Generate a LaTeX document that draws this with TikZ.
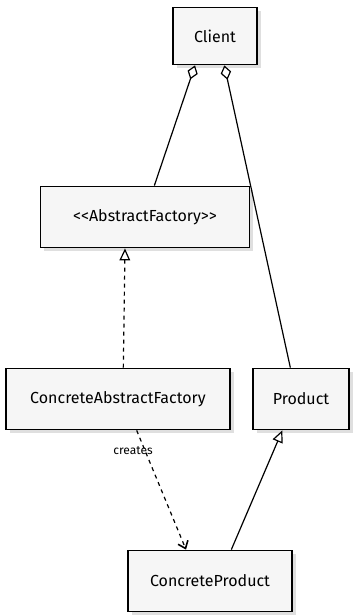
\documentclass[tikz,border=0pt]{standalone}
\usepackage{fontspec}
\setmainfont{Fira Sans}
\usetikzlibrary{arrows.meta, positioning, shadows}

\begin{document}
\begin{tikzpicture}[
    x=0.75pt, y=-0.75pt,
    box/.style={rectangle, draw, line width=1.1pt, fill=gray!7, drop shadow={opacity=0.25},
      minimum height=46pt, font=\fontsize{12}{14}\selectfont},
    link/.style={line width=0.9pt},
    inherit/.style={link, -{Triangle[open, length=9pt, width=8pt]}},
    aggr/.style={link, {Diamond[open, length=11pt, width=8pt]}-},
    creates/.style={link, dashed, -{Straight Barb[length=5pt, width=8pt, line width=1.2pt]}}
  ]
    \useasboundingbox (0,0) rectangle (355,616);
    \node[box, minimum width=63pt, minimum height=43pt] (client) at (215,36) {Client};
    \node[box, minimum width=157pt] (af) at (145,217) {{<}{<}AbstractFactory{>}{>}};
    \node[box, minimum width=168pt] (caf) at (118,399) {ConcreteAbstractFactory};
    \node[box, minimum width=72pt] (product) at (301,399) {Product};
    \node[box, minimum width=123pt] (cp) at (210,581) {ConcreteProduct};
    \draw[aggr] ([xshift=-15]client.south) -- ([xshift=7]af.north);
    \draw[aggr] ([xshift=7]client.south) -- ([xshift=-8]product.north);
    \draw[inherit, dashed] ([xshift=4]caf.north) -- ([xshift=-15]af.south);
    \draw[creates] ([xshift=14]caf.south) -- node[pos=0.17, xshift=-9, font=\fontsize{9}{10}\selectfont] {creates} ([xshift=-18]cp.north);
    \draw[inherit] ([xshift=16]cp.north) -- ([xshift=-14]product.south);
  \end{tikzpicture}
\end{document}
